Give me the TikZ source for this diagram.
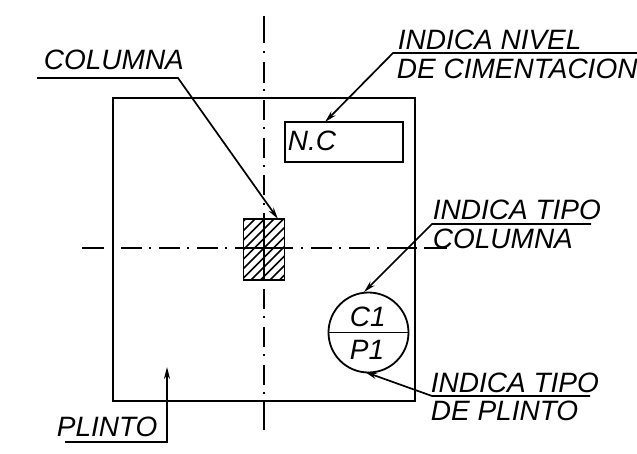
\documentclass[tikz,border=0pt]{standalone}
\usepackage{fontspec}
\setmainfont{Liberation Sans}
\usetikzlibrary{arrows.meta}

\begin{document}
\begin{tikzpicture}[x=1pt, y=-1pt, line width=1.8pt,
    etiqueta/.style={anchor=base west, inner sep=0pt, font=\fontsize{28}{28}\selectfont\itshape},
    caja/.style={draw, inner sep=0pt, outer sep=0pt},
    guia/.style={line width=1.7pt, -{Stealth[length=12pt, width=6pt]}},
    eje/.style={line width=1.8pt}]
    \useasboundingbox (0,0) rectangle (637,454);

    % plinto, columna y caja de nivel
    \node[caja, minimum width=302pt, minimum height=303pt] (plinto) at (264,249.5) {};
    \node[caja, minimum width=118pt, minimum height=40pt] (nivel) at (344,142) {};
    \node[caja, minimum width=41pt, minimum height=61pt] (columna) at (264,249.5) {};
    \begin{scope}
        \clip (columna.south west) rectangle (columna.north east);
        \foreach \x in {175,184.5,...,292}
            \draw[line width=1.5pt] (\x,280) -- (\x+61,219);
    \end{scope}

    % ejes
    \coordinate (ejeN) at (264,16);
    \coordinate (ejeS) at (264,430);
    \coordinate (ejeO) at (82,248);
    \coordinate (ejeE) at (447,248);
    \draw[eje, dash pattern=on 27pt off 8.5pt on 2pt off 8.5pt on 21pt off 6pt on 2pt off 9pt on 20pt off 7pt on 2pt off 9pt on 20pt off 7pt on 2pt off 8pt on 20pt off 8pt on 2pt off 8pt on 68pt off 8pt on 20pt off 7pt on 2pt off 9pt on 20pt off 7pt on 2pt off 9pt on 20pt off 7pt on 2pt off 8pt on 28pt off 100pt] (ejeN) -- (ejeS);
    \draw[eje, dash pattern=on 22pt off 17pt on 21pt off 7pt on 2pt off 8pt on 21pt off 7pt on 2pt off 8pt on 21pt off 7pt on 2pt off 8pt on 58pt off 8pt on 2pt off 8pt on 21pt off 7pt on 2pt off 8pt on 21pt off 7pt on 2pt off 8pt on 30pt off 7pt on 23pt off 100pt] (ejeO) -- (ejeE);

    % tipo de columna y plinto
    \node[draw, circle, inner sep=0pt, outer sep=0pt, minimum size=80pt] (tipo) at (368.5,332.5) {};
    \draw (tipo.west) -- (tipo.east);
    \node[etiqueta] (c1) at (349,326) {C1};
    \node[etiqueta] (p1) at (349,359) {P1};
    \node[etiqueta] (nc) at (287,151) {N.C};

    % textos
    \node[etiqueta] (tcolumna) at (43,70) {COLUMNA};
    \node[etiqueta] (tnivel) at (397,50) {INDICA NIVEL};
    \node[etiqueta] (tciment) at (396,79) {DE CIMENTACION};
    \node[etiqueta] (ttipo) at (432,220) {INDICA TIPO};
    \node[etiqueta] (tcol) at (432,248.5) {COLUMNA};
    \node[etiqueta] (ttipop) at (430,392) {INDICA TIPO};
    \node[etiqueta] (tdeplinto) at (430,420.5) {DE PLINTO};
    \node[etiqueta] (tplinto) at (56,436) {PLINTO};

    % guias
    \coordinate (a1) at (37,78);
    \coordinate (a2) at (178,78);
    \coordinate (a3) at (278,219);
    \coordinate (b1) at (637,53);
    \coordinate (b2) at (393,53);
    \coordinate (b3) at (325,122);
    \coordinate (c2) at (591,224);
    \coordinate (c3) at (432,224);
    \coordinate (c4) at (364,292);
    \coordinate (d1) at (590,396);
    \coordinate (d2) at (432,396);
    \coordinate (d3) at (365,372);
    \coordinate (e1) at (65,442);
    \coordinate (e2) at (167,442);
    \coordinate (e3) at (167,367);
    \draw[guia] (a1) -- (a2) -- (a3);
    \draw[guia] (b1) -- (b2) -- (b3);
    \draw[guia] (c2) -- (c3) -- (c4);
    \draw[guia] (d1) -- (d2) -- (d3);
    \draw[guia] (e1) -- (e2) -- (e3);
\end{tikzpicture}
\end{document}
